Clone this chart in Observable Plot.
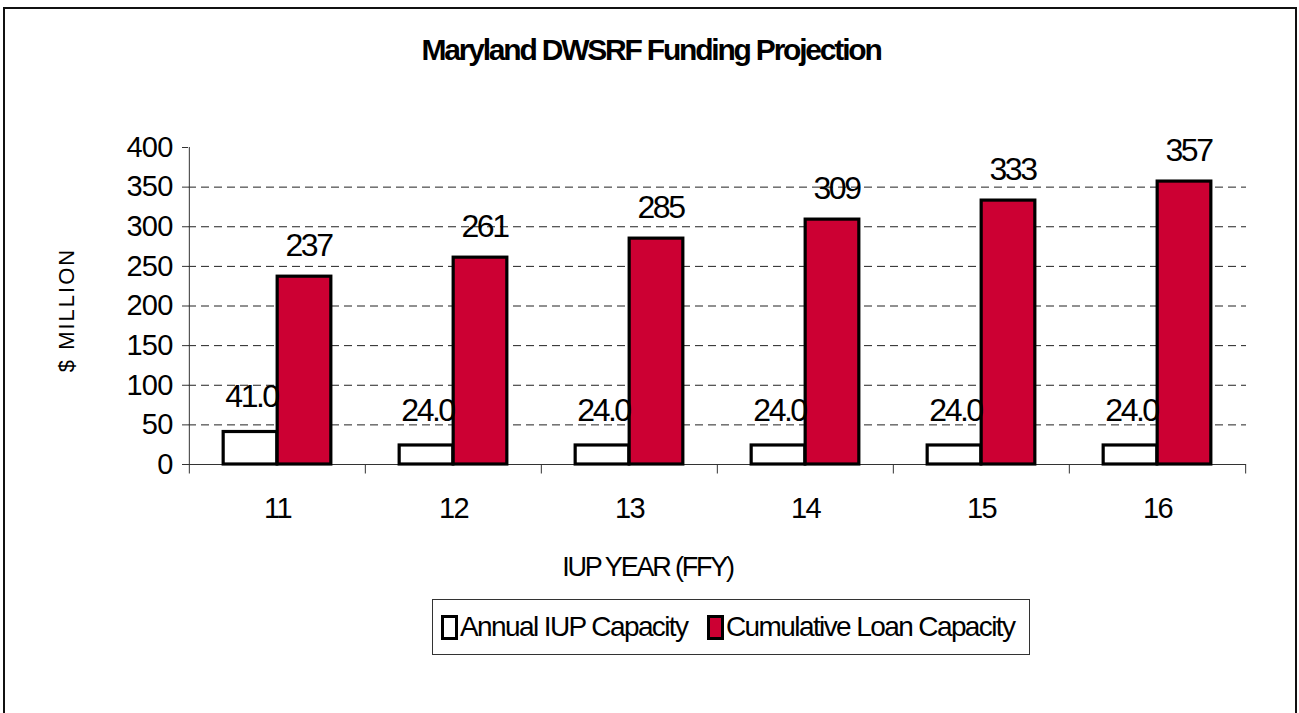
<!DOCTYPE html>
<html>
<head>
<meta charset="utf-8">
<script src="https://cdn.jsdelivr.net/npm/d3@7"></script>
<script src="https://cdn.jsdelivr.net/npm/@observablehq/plot@0.6"></script>
<style>
  body { margin: 0; background: #fff; font-family: "Liberation Sans", Arial, sans-serif; }
  #wrap { position: relative; width: 1299px; height: 713px; overflow: hidden; background: #fff; }
  #border { position: absolute; left: 3px; top: 7px; width: 1294px; height: 760px; border: 2px solid #111; box-sizing: border-box; }
  #chart { position: absolute; left: 0; top: 0; }
  #title { position: absolute; left: 0; width: 1302px; top: 35px; line-height: 30px; text-align: center;
           font-weight: bold; font-size: 30px; letter-spacing: -2.2px; color: #000; }
  #legend { position: absolute; left: 432px; top: 599px; width: 598px; height: 56px; border: 1px solid #333;
            box-sizing: border-box; background: #fff; }
  .item { position: absolute; top: 0; height: 100%; display: flex; align-items: center; }
  .sw { width: 11px; height: 19px; border: 3px solid #000; margin-right: 2px; }
  .lab { font-size: 28px; letter-spacing: -1.6px; color: #000; white-space: nowrap; }
</style>
</head>
<body>
<div id="wrap">
  <div id="border"></div>
  <div id="chart"></div>
  <div id="title"></div>
  <div id="legend"></div>
</div>
<script>
// ---- data ----
const years = ["11", "12", "13", "14", "15", "16"];
const annual = [41.0, 24.0, 24.0, 24.0, 24.0, 24.0];
const cumulative = [237, 261, 285, 309, 333, 357];
const yTicks = [0, 50, 100, 150, 200, 250, 300, 350, 400];
const gridValues = [50, 100, 150, 200, 250, 300, 350];
const seriesNames = ["Annual IUP Capacity", "Cumulative Loan Capacity"];
const seriesColors = ["#ffffff", "#cc0033"];
const titleText = "Maryland DWSRF Funding Projection";
const yLabel = "$ MILLION";
const xLabel = "IUP YEAR (FFY)";

// ---- layout ----
const W = 1299, H = 713, mL = 188, mR = 53, mT = 147, mB = 249;
const bw = (W - mL - mR) / years.length;
const barW = 54;

const rowsA = years.map((y, i) => ({year: y, value: annual[i]}));
const rowsC = years.map((y, i) => ({year: y, value: cumulative[i]}));

const chart = Plot.plot({
  width: W, height: H,
  marginLeft: mL, marginRight: mR, marginTop: mT, marginBottom: mB,
  style: {background: "transparent", fontFamily: '"Liberation Sans", Arial, sans-serif', color: "#000", overflow: "visible"},
  x: {domain: years, padding: 0},
  y: {domain: [0, 400]},
  marks: [
    Plot.ruleY(gridValues, {stroke: "#222", strokeDasharray: "8,5", strokeWidth: 1}),
    Plot.axisY({ticks: yTicks, tickSize: 6, tickPadding: 10, fontSize: 29, label: null, stroke: "#333"}),
    Plot.axisX({tickSize: 0, tickPadding: 33, fontSize: 29, label: null}),
    Plot.ruleX([years[0]], {dx: -bw / 2, y1: -12, y2: 400, stroke: "#333"}),
    Plot.ruleX(years.slice(1), {dx: -bw / 2, y1: -12, y2: 0, stroke: "#333"}),
    Plot.ruleX([years[years.length - 1]], {dx: bw / 2, y1: -12, y2: 0, stroke: "#333"}),
    Plot.ruleY([0], {stroke: "#333"}),
    Plot.barY(rowsA, {x: "year", y: "value", fill: seriesColors[0], stroke: "#000", strokeWidth: 3.2,
                      insetLeft: bw / 2 - barW, insetRight: bw / 2}),
    Plot.barY(rowsC, {x: "year", y: "value", fill: seriesColors[1], stroke: "#000", strokeWidth: 3.2,
                      insetLeft: bw / 2, insetRight: bw / 2 - barW}),
    Plot.text(rowsA, {x: "year", y: "value", text: d => d.value.toFixed(1), dx: -26, dy: -35, fontSize: 32}),
    Plot.text(rowsC, {x: "year", y: "value", text: d => String(d.value), dx: 31, dy: -31, fontSize: 32}),
    Plot.text([yLabel], {frameAnchor: "left", textAnchor: "middle", lineAnchor: "middle", text: d => d,
                         rotate: -90, dx: -122, dy: 4, fontSize: 22}),
    Plot.text([xLabel], {frameAnchor: "bottom", textAnchor: "middle", lineAnchor: "middle", text: d => d,
                         dx: -70, dy: 103, fontSize: 27})
  ]
});

const s = d3.select(chart);
s.selectAll('g[aria-label="y-axis tick label"] text').style("letter-spacing", "-0.8px");
s.selectAll('g[aria-label="x-axis tick label"] text').style("letter-spacing", "-1.5px");
const tg = s.selectAll('g[aria-label="text"]').nodes();
const ls = ["-2.5px", "-2.5px", "2px", "-2.2px"];
tg.forEach((g, i) => d3.select(g).selectAll("text").style("letter-spacing", ls[i] || "0"));

document.getElementById("chart").appendChild(chart);
document.getElementById("title").textContent = titleText;

const legend = d3.select("#legend");
const offsets = [8, 274];
seriesNames.forEach((name, i) => {
  const it = legend.append("div").attr("class", "item").style("left", offsets[i] + "px");
  it.append("div").attr("class", "sw").style("background", seriesColors[i]);
  it.append("div").attr("class", "lab").text(name);
});
</script>
</body>
</html>
